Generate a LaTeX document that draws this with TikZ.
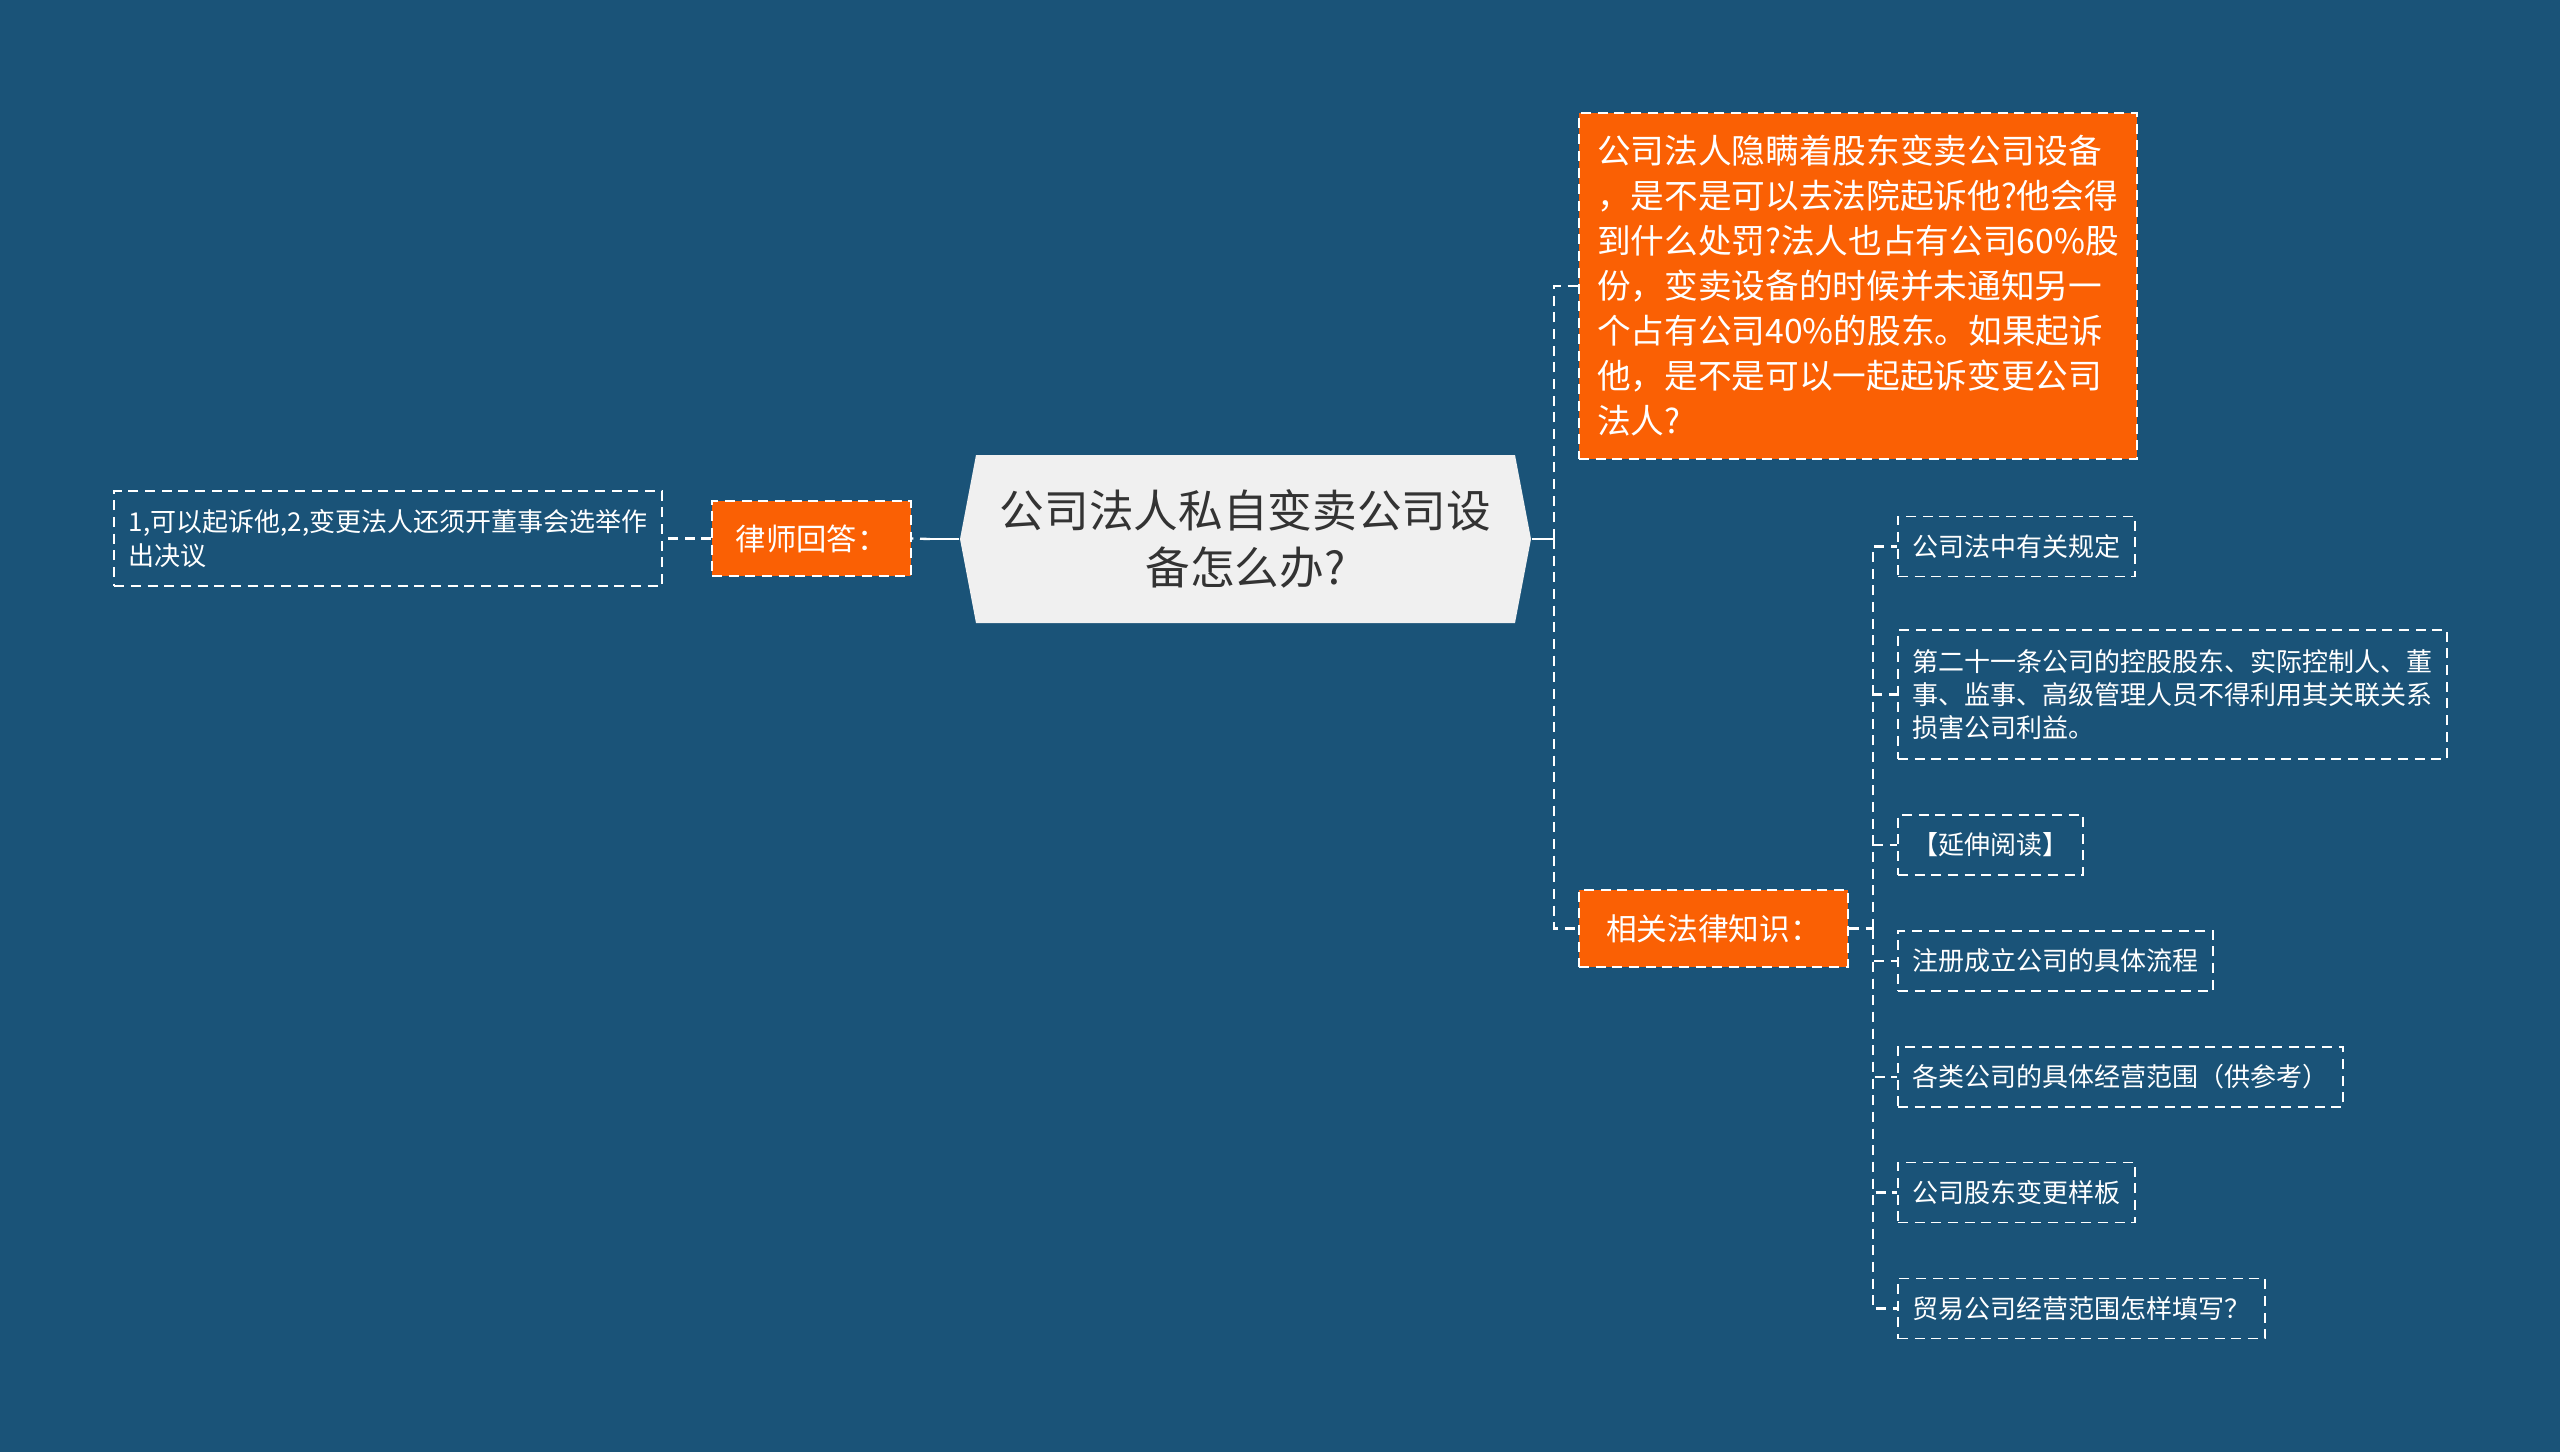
\documentclass[tikz,border=0pt]{standalone}
\usepackage{fontspec}
\setmainfont{Noto Sans CJK SC}
\usepackage{xcolor}
\usepackage{tikz}
\usetikzlibrary{positioning,calc}

\definecolor{bgblue}{RGB}{26,83,120}
\definecolor{hotorange}{RGB}{250,96,4}
\definecolor{hubgray}{RGB}{240,240,240}
\definecolor{hubtext}{RGB}{51,51,51}

\begin{document}
\begin{tikzpicture}[
  x=0.3pt, y=-0.3pt,
  hub/.style={
    rectangle, text=hubtext, align=center,
    minimum width=171.3pt, minimum height=50.7pt,
    font=\fontsize{13.4}{17.1}\selectfont
  },
  branch/.style={
    rectangle, draw=white, dash pattern=on 3pt off 2pt,
    line width=0.5pt, fill=hotorange, text=white,
    inner xsep=5.4pt
  },
  leaf/.style={
    rectangle, draw=white, dash pattern=on 3pt off 2pt,
    line width=0.55pt, text=white, align=left,
    inner xsep=4.4pt, minimum height=18pt,
    font=\fontsize{7.8}{10}\selectfont
  },
  link/.style={draw=white, line width=0.7pt, dash pattern=on 3pt off 2pt},
  stem/.style={draw=white, line width=0.8pt}
]

% background
\fill[bgblue] (0,0) rectangle (2560,1452);

% central hexagon
\fill[hubgray] (960,539) -- (976,455) -- (1515,455) -- (1531,539)
  -- (1515,623) -- (976,623) -- cycle;
\node[hub] (main) at (1245.5,539) {公司法人私自变卖公司设\\备怎么办?};

% right side
\node[branch, minimum width=167.4pt, minimum height=103.8pt,
  text width=156.6pt, align=left,
  font=\fontsize{10.1}{13.5}\selectfont] (quest) at (1858,286) {%
  公司法人隐瞒着股东变卖公司设备\\
  ，是不是可以去法院起诉他?他会得\\
  到什么处罚?法人也占有公司60\%股\\
  份，变卖设备的时候并未通知另一\\
  个占有公司40\%的股东。如果起诉\\
  他，是不是可以一起起诉变更公司\\
  法人?%
};

\node[branch, minimum width=80.7pt, minimum height=23.1pt,
  font=\fontsize{9.2}{11}\selectfont] (law) at (1713.5,928.5) {相关法律知识：};

\coordinate (spineR) at (1554,539);
\coordinate (spineLaw) at (1873,928.5);

\node[leaf, anchor=west] (rule) at (1897,546.5) {公司法中有关规定};
\node[leaf, anchor=west, minimum height=38.7pt] (art) at (1897,694.5) {%
  第二十一条公司的控股股东、实际控制人、董\\
  事、监事、高级管理人员不得利用其关联关系\\
  损害公司利益。%
};
\node[leaf, anchor=west] (more) at (1897,845) {【延伸阅读】};
\node[leaf, anchor=west] (reg) at (1897,961) {注册成立公司的具体流程};
\node[leaf, anchor=west] (scope) at (1897,1077) {各类公司的具体经营范围（供参考）};
\node[leaf, anchor=west] (tmpl) at (1897,1192.5) {公司股东变更样板};
\node[leaf, anchor=west] (trade) at (1897,1308.5) {贸易公司经营范围怎样填写？};

% left side
\node[branch, minimum width=59.7pt, minimum height=22.5pt,
  font=\fontsize{9.1}{11}\selectfont] (lawyer) at (811.5,538.5) {律师回答：};
\node[leaf, anchor=east, minimum height=28.5pt,
  font=\fontsize{7.8}{10.3}\selectfont] (answer) at (663,538.5) {%
  1,可以起诉他,2,变更法人还须开董事会选举作\\
  出决议%
};
\coordinate (spineL) at (930,539);

% connectors
\draw[stem] (main.east) -- (spineR);
\draw[link] (spineR) |- (quest.west);
\draw[link] (spineR) |- (law.west);
\draw[link] (law.east) -- (spineLaw);
\foreach \leafname in {rule,art,more,reg,scope,tmpl,trade}
  \draw[link] (spineLaw) |- (\leafname.west);

\draw[stem] (main.west) -- (spineL);
\draw[link] (spineL) -- (lawyer.east);
\draw[link] (lawyer.west) -- (answer.east);
\end{tikzpicture}
\end{document}
